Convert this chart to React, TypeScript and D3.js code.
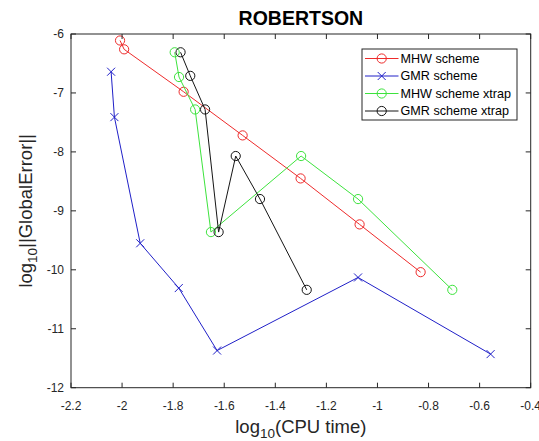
import React from "react";
import * as d3 from "d3";

const W = 539;
const H = 441;

const xTicks = [-2.2, -2, -1.8, -1.6, -1.4, -1.2, -1, -0.8, -0.6, -0.4];
const yTicks = [-6, -7, -8, -9, -10, -11, -12];
const xTickLabels = ["-2.2", "-2", "-1.8", "-1.6", "-1.4", "-1.2", "-1", "-0.8", "-0.6", "-0.4"];
const yTickLabels = ["-6", "-7", "-8", "-9", "-10", "-11", "-12"];

const mhwX = [-2.008, -1.992, -1.759, -1.528, -1.301, -1.07, -0.831];
const mhwY = [-6.11, -6.26, -6.98, -7.72, -8.45, -9.23, -10.04];
const gmrX = [-2.043, -2.03, -1.929, -1.778, -1.628, -1.076, -0.557];
const gmrY = [-6.64, -7.41, -9.55, -10.31, -11.37, -10.13, -11.43];
const mhwXtX = [-1.794, -1.777, -1.714, -1.652, -1.299, -1.076, -0.707];
const mhwXtY = [-6.31, -6.73, -7.28, -9.36, -8.07, -8.8, -10.34];
const gmrXtX = [-1.771, -1.733, -1.675, -1.622, -1.555, -1.46, -1.277];
const gmrXtY = [-6.31, -6.71, -7.28, -9.36, -8.07, -8.8, -10.34];

const seriesNames = ["MHW scheme", "GMR scheme", "MHW scheme xtrap", "GMR scheme xtrap"];
const seriesColors = ["#ee2b2b", "#2020c8", "#3de33d", "#151515"];
const seriesMarkers = ["o", "x", "o", "o"];

const FONT = "'Liberation Sans', Arial, sans-serif";

const series = [
  { name: seriesNames[0], xs: mhwX, ys: mhwY, color: seriesColors[0], marker: seriesMarkers[0] },
  { name: seriesNames[1], xs: gmrX, ys: gmrY, color: seriesColors[1], marker: seriesMarkers[1] },
  { name: seriesNames[2], xs: mhwXtX, ys: mhwXtY, color: seriesColors[2], marker: seriesMarkers[2] },
  { name: seriesNames[3], xs: gmrXtX, ys: gmrXtY, color: seriesColors[3], marker: seriesMarkers[3] },
];

const L = 71, R = 530.7, T = 34, B = 387.7;

function Marker({ type, x, y, color }: { type: string; x: number; y: number; color: string }) {
  if (type === "x") {
    const s = 4;
    return (
      <path d={`M${x - s},${y - s}L${x + s},${y + s}M${x - s},${y + s}L${x + s},${y - s}`} stroke={color} strokeWidth={1} fill="none" />
    );
  }
  return <circle cx={x} cy={y} r={4.6} stroke={color} strokeWidth={1} fill="none" />;
}

export default function App() {
  const x = d3.scaleLinear().domain([-2.2, -0.4]).range([L, R]);
  const y = d3.scaleLinear().domain([-12, -6]).range([B, T]);
  const line = d3.line<[number, number]>().x((d) => x(d[0])).y((d) => y(d[1]));
  const axisColor = "#262626";
  const tl = 5;

  const legX = 362, legY = 49, legW = 155, legH = 71;
  const rowY = [58.5, 76, 93.5, 111];

  return (
    <svg width={W} height={H} style={{ position: "absolute", left: 0, top: 0, background: "#fff" }} fontFamily={FONT}>
      <rect x={0} y={0} width={W} height={H} fill="#fff" />
      {series.map((s, i) => {
        const pts = s.xs.map((v, j) => [v, s.ys[j]] as [number, number]);
        return (
          <g key={i}>
            <path d={line(pts) || ""} stroke={s.color} strokeWidth={1} fill="none" />
            {pts.map((p, j) => (
              <Marker key={j} type={s.marker} x={x(p[0])} y={y(p[1])} color={s.color} />
            ))}
          </g>
        );
      })}
      <rect x={L} y={T} width={R - L} height={B - T} fill="none" stroke={axisColor} strokeWidth={1} />
      {xTicks.map((t, i) => (
        <g key={"xt" + i}>
          <line x1={x(t)} x2={x(t)} y1={B} y2={B - tl} stroke={axisColor} />
          <line x1={x(t)} x2={x(t)} y1={T} y2={T + tl} stroke={axisColor} />
          <text x={x(t)} y={409.5} textAnchor="middle" fontSize={12} fill="#262626">
            {xTickLabels[i]}
          </text>
        </g>
      ))}
      {yTicks.map((t, i) => (
        <g key={"yt" + i}>
          <line x1={L} x2={L + tl} y1={y(t)} y2={y(t)} stroke={axisColor} />
          <line x1={R} x2={R - tl} y1={y(t)} y2={y(t)} stroke={axisColor} />
          <text x={64} y={y(t) + 4.3} textAnchor="end" fontSize={12} fill="#262626">
            {yTickLabels[i]}
          </text>
        </g>
      ))}
      <text x={(L + R) / 2} y={25} textAnchor="middle" fontSize={19.5} fontWeight="bold" fill="#000">
        ROBERTSON
      </text>
      <text x={(L + R) / 2} y={433} textAnchor="middle" fontSize={18.5} fill="#262626">
        log<tspan fontSize={13.5} dy={5}>10</tspan>
        <tspan dy={-5}>(CPU time)</tspan>
      </text>
      <text transform={`translate(32,${(T + B) / 2}) rotate(-90)`} textAnchor="middle" fontSize={18.5} fill="#262626">
        log<tspan fontSize={13.5} dy={5}>10</tspan>
        <tspan dy={-5}>||GlobalError||</tspan>
      </text>
      <rect x={legX} y={legY} width={legW} height={legH} fill="#fff" stroke={axisColor} strokeWidth={1} />
      {series.map((s, i) => (
        <g key={"lg" + i}>
          <line x1={365} x2={398.5} y1={rowY[i]} y2={rowY[i]} stroke={s.color} strokeWidth={1} />
          <Marker type={s.marker} x={381.7} y={rowY[i]} color={s.color} />
          <text x={400.5} y={rowY[i] + 4.4} fontSize={12.6} fill="#000">
            {s.name}
          </text>
        </g>
      ))}
    </svg>
  );
}
